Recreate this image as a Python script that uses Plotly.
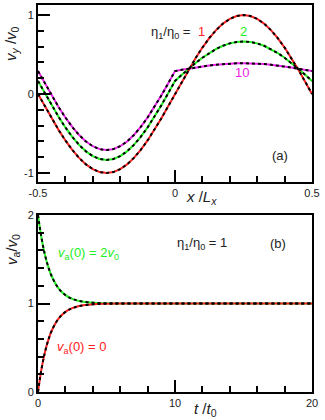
import plotly.graph_objects as go

# ---- panel (a) data: v_y/v_0 vs x/L_x ----
x_a = [round(-0.5 + 0.025 * i, 3) for i in range(41)]
vy_eta1 = [0, -0.156, -0.309, -0.454, -0.588, -0.707, -0.809, -0.891, -0.951, -0.988, -1.0,
           -0.988, -0.951, -0.891, -0.809, -0.707, -0.588, -0.454, -0.309, -0.156, 0,
           0.156, 0.309, 0.454, 0.588, 0.707, 0.809, 0.891, 0.951, 0.988, 1.0,
           0.988, 0.951, 0.891, 0.809, 0.707, 0.588, 0.454, 0.309, 0.156, 0]
vy_eta2 = [0.165, 0.009, -0.144, -0.289, -0.423, -0.542, -0.644, -0.726, -0.786, -0.823, -0.835,
           -0.823, -0.786, -0.726, -0.644, -0.542, -0.423, -0.289, -0.144, 0.009, 0.165,
           0.243, 0.320, 0.392, 0.459, 0.519, 0.570, 0.611, 0.641, 0.659, 0.665,
           0.659, 0.641, 0.611, 0.570, 0.519, 0.459, 0.392, 0.320, 0.243, 0.165]
vy_eta10 = [0.29, 0.134, -0.019, -0.164, -0.298, -0.417, -0.519, -0.601, -0.661, -0.698, -0.71,
            -0.698, -0.661, -0.601, -0.519, -0.417, -0.298, -0.164, -0.019, 0.134, 0.29,
            0.306, 0.321, 0.335, 0.349, 0.361, 0.371, 0.379, 0.385, 0.389, 0.39,
            0.389, 0.385, 0.379, 0.371, 0.361, 0.349, 0.335, 0.321, 0.306, 0.29]

# ---- panel (b) data: v_a/v_0 vs t/t_0 ----
t_b = [0, 0.25, 0.5, 0.75, 1.0, 1.5, 2.0, 2.5, 3.0, 4.0, 5.0, 6.0, 8.0, 10.0, 15.0, 20.0]
va_from0 = [0, 0.255, 0.445, 0.586, 0.692, 0.829, 0.905, 0.947, 0.971, 0.991, 0.997, 0.999, 1.0, 1.0, 1.0, 1.0]
va_from2 = [2.0, 1.745, 1.555, 1.414, 1.308, 1.171, 1.095, 1.053, 1.029, 1.009, 1.003, 1.001, 1.0, 1.0, 1.0, 1.0]

RED = "#ff2222"
GREEN = "#22ee22"
MAGENTA = "#ee22ee"
FONT = "Liberation Sans, Arial, sans-serif"

fig = go.Figure()

def add_pair(x, y, color, xa, ya, shape="linear"):
    fig.add_trace(go.Scatter(x=x, y=y, mode="lines", line=dict(color=color, width=2, shape=shape),
                             xaxis=xa, yaxis=ya, showlegend=False, hoverinfo="skip"))

def add_dash(x, y, xa, ya, shape="linear"):
    fig.add_trace(go.Scatter(x=x, y=y, mode="lines",
                             line=dict(color="black", width=2, dash="3px,3px", shape=shape),
                             xaxis=xa, yaxis=ya, showlegend=False, hoverinfo="skip"))

for y, c in [(vy_eta10, MAGENTA), (vy_eta2, GREEN), (vy_eta1, RED)]:
    add_pair(x_a, y, c, "x", "y")
for y in [vy_eta10, vy_eta2, vy_eta1]:
    add_dash(x_a, y, "x", "y")

add_pair(t_b, va_from2, GREEN, "x2", "y2", "spline")
add_pair(t_b, va_from0, RED, "x2", "y2", "spline")
add_dash(t_b, va_from2, "x2", "y2", "spline")
add_dash(t_b, va_from0, "x2", "y2", "spline")

W, H = 325, 420
def px(x): return x / W
def py(y): return 1 - y / H

XD = [px(38), px(312)]
YD_A = [py(182), py(5)]
YD_B = [py(392), py(215)]
XR_A, YR_A = [-0.5, 0.5], [-1.114, 1.127]
XR_B, YR_B = [0, 20], [0, 2]

def ax(domain, rng, tickvals, minor_dtick, anchor, **extra):
    d = dict(domain=domain, range=rng, anchor=anchor, tickvals=tickvals,
             showgrid=False, zeroline=False, showline=True, linecolor="black", linewidth=2,
             mirror=True, ticks="inside", ticklen=12, tickwidth=2, tickcolor="black",
             automargin=False, fixedrange=True,
             tickfont=dict(family=FONT, size=11, color="#222"),
             minor=dict(ticks="inside", dtick=minor_dtick, tick0=0, ticklen=6, tickwidth=2,
                        tickcolor="black"))
    d.update(extra)
    return d

fig.update_layout(
    width=W, height=H, margin=dict(l=0, r=0, t=0, b=0),
    paper_bgcolor="white", plot_bgcolor="white",
    xaxis=ax(XD, XR_A, [-0.5, 0, 0.5], 0.1, "y", ticktext=["-0.5", "0", "0.5"]),
    yaxis=ax(YD_A, YR_A, [-1, 0, 1], 0.2, "x", ticktext=["-1", "0", "1"]),
    xaxis2=ax(XD, XR_B, [0, 10, 20], 2, "y2"),
    yaxis2=ax(YD_B, YR_B, [0, 1, 2], 0.2, "x2"),
    # opposite-side tick axes (top / right)
    xaxis3=ax(XD, XR_A, [-0.5, 0, 0.5], 0.1, "y", side="top", overlaying="x", showticklabels=False),
    yaxis3=ax(YD_A, YR_A, [-1, 0, 1], 0.2, "x", side="right", overlaying="y", showticklabels=False),
    xaxis4=ax(XD, XR_B, [0, 10, 20], 2, "y2", side="top", overlaying="x2", showticklabels=False),
    yaxis4=ax(YD_B, YR_B, [0, 1, 2], 0.2, "x2", side="right", overlaying="y2", showticklabels=False),
)

def ann(text, x, y, color="#222", size=13, angle=0):
    fig.add_annotation(text=text, x=px(x), y=py(y), xref="paper", yref="paper",
                       showarrow=False, xanchor="center", yanchor="middle", textangle=angle,
                       font=dict(family=FONT, size=size, color=color))

eta = "η<sub>1</sub>/η<sub>0</sub> = "
ann(eta, 173, 33)
ann("1", 202, 32, RED)
ann("2", 243, 32, GREEN)
ann("10", 242, 72, MAGENTA)
ann("(a)", 280, 155)
ann("<i>x</i> /<i>L<sub>x</sub></i>", 201, 197, size=15)
ann("<i>v<sub>y</sub></i> /<i>v</i><sub>0</sub>", 12, 44, size=15, angle=-90)

ann(eta + "1", 202, 243)
ann("(b)", 278, 243)
ann("<i>v</i><sub>a</sub>(0) = 2<i>v</i><sub>0</sub>", 88, 254, GREEN, size=13)
ann("<i>v</i><sub>a</sub>(0) = 0", 82, 347, RED, size=13)
ann("<i>t</i> /<i>t</i><sub>0</sub>", 205, 409, size=15)
ann("<i>v</i><sub>a</sub>/<i>v</i><sub>0</sub>", 12, 250, size=15, angle=-90)

fig.write_html("out.html", config={"displayModeBar": False, "staticPlot": True},
               post_script="document.body.style.margin='0';document.body.style.overflow='hidden';")
